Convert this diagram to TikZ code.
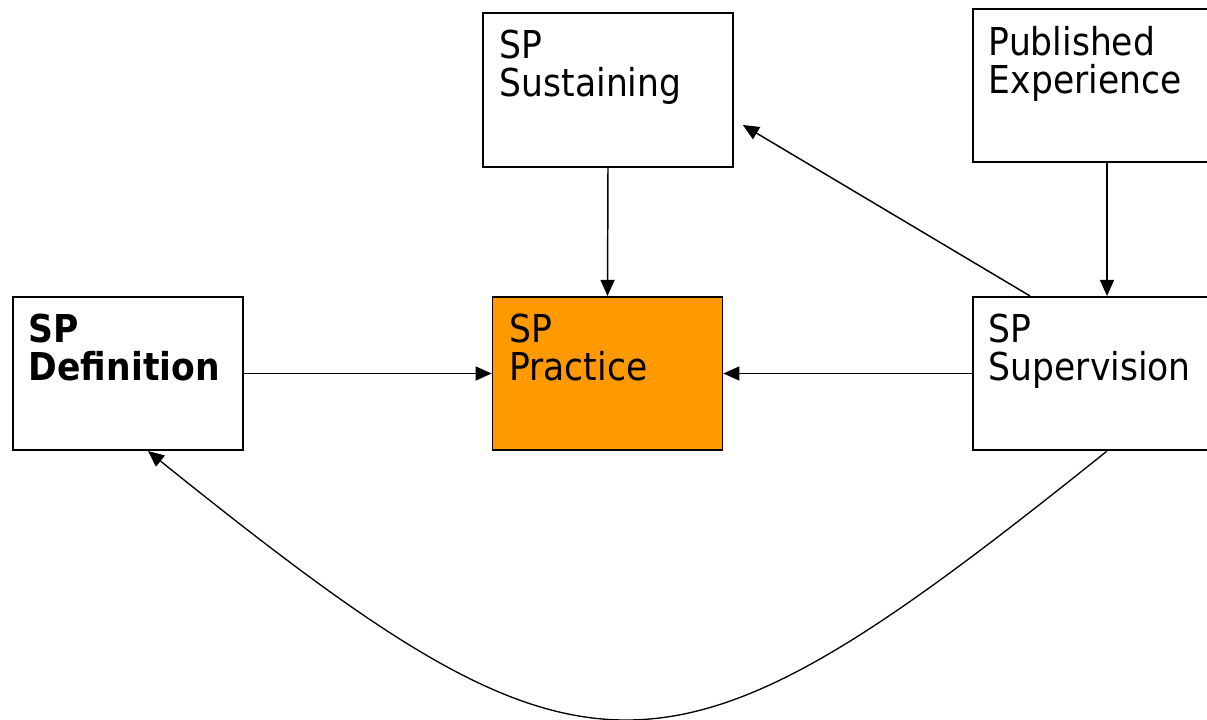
\documentclass[tikz,border=0pt]{standalone}
\usepackage{fontspec}
\setmainfont{DejaVu Sans Condensed}
\usetikzlibrary{arrows.meta,calc}
\definecolor{practiceorange}{RGB}{255,153,0}
\tikzset{every picture/.style={line width=1.1pt}}

\begin{document}
\begin{tikzpicture}[x=0.75pt,y=-0.75pt,
  box/.style={draw, rectangle, line width=1.3pt, inner sep=0pt, minimum width=172.5pt, minimum height=115pt},
  widebox/.style={box, minimum width=201pt},
  boxtext/.style={anchor=north west, inner sep=0pt, align=left, font=\fontsize{28.8}{28.5}\selectfont},
  link/.style={-{Triangle[length=12pt,width=10.5pt]}}]
\useasboundingbox (0,0) rectangle (1207,720);

% boxes
\node [box, minimum width=187.5pt] (sust) at (608,90) {};
\node [widebox] (pub) at (1107,85.5) {};
\node [box] (def) at (128,373.5) {};
\node [box, fill=practiceorange] (prac) at (607.5,373.5) {};
\node [widebox] (sup) at (1107,373.5) {};

% box texts
\node [boxtext] (sust-txt) at ($(sust.north west)+(17,17)$) {SP\\Sustaining};
\node [boxtext] (pub-txt) at ($(pub.north west)+(16,18)$) {Published\\Experience};
\node [boxtext, font=\fontsize{28.8}{28.5}\selectfont\bfseries] (def-txt) at ($(def.north west)+(16,17)$) {SP\\Definition};
\node [boxtext] (prac-txt) at ($(prac.north west)+(17,17)$) {SP\\Practice};
\node [boxtext] (sup-txt) at ($(sup.north west)+(16,17)$) {SP\\Supervision};

% free ends
\coordinate (sup-out) at ($(sup.north)+(-77,0)$);
\coordinate (sust-tip) at ($(sust.east)+(9,35)$);
\coordinate (def-tip) at ($(def.south)+(20,0)$);

% arrows
\draw [link] (sust.south) -- (prac.north);
\draw [link] (pub.south) -- (sup.north);
\draw [link] (sup-out) -- (sust-tip);
\draw [link] (def.east) -- (prac.west);
\draw [link] (sup.west) -- (prac.east);
\draw [link, line width=1pt] (sup.south) .. controls +(-445,357) and +(444,357) .. (def-tip);

\end{tikzpicture}
\end{document}
